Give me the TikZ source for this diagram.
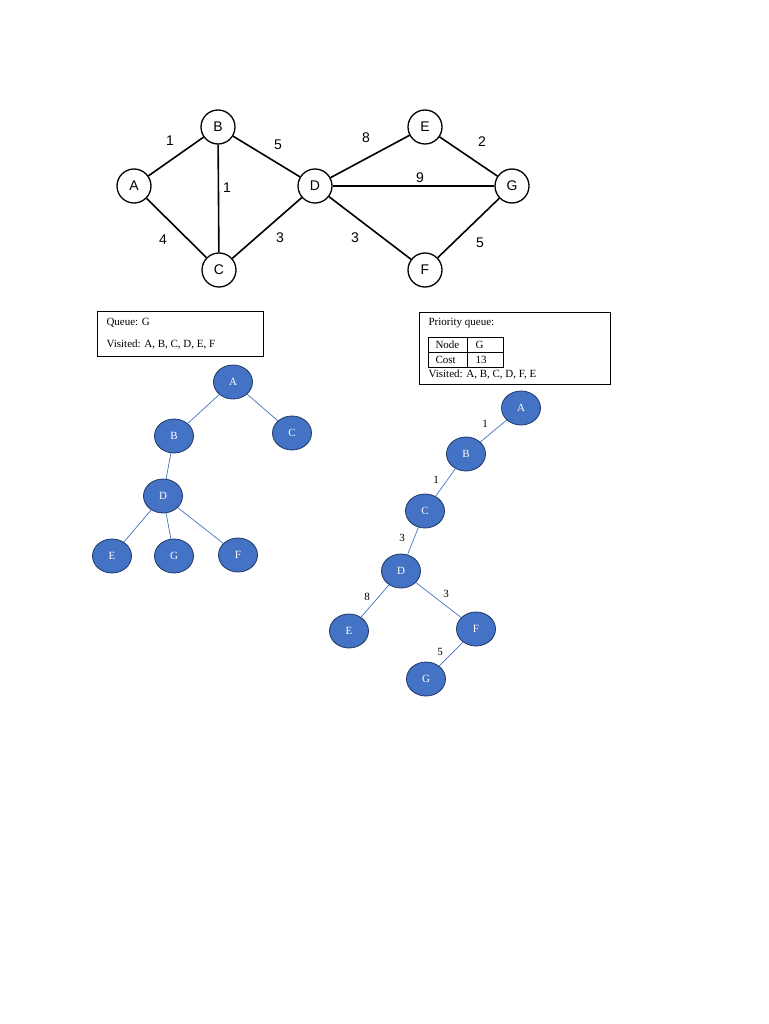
\documentclass[tikz,border=0pt]{standalone}
\usepackage{fontspec}
\setmainfont{Liberation Serif}
\newfontfamily\arialf{Liberation Sans}
\usetikzlibrary{shapes.geometric}
\definecolor{nb}{HTML}{4472C4}
\definecolor{nd}{HTML}{1F3864}
\begin{document}
\begin{tikzpicture}[x=1pt,y=-1pt,
  gn/.style={circle,draw,line width=1.3pt,minimum size=34pt,inner sep=0pt,font=\arialf\fontsize{14}{14}\selectfont},
  ge/.style={line width=1.6pt},
  gw/.style={font=\arialf\fontsize{14}{14}\selectfont},
  tn/.style={ellipse,draw=nd,fill=nb,line width=0.8pt,minimum width=39pt,minimum height=34pt,inner sep=0pt,text=white,font=\fontsize{11}{11}\selectfont},
  te/.style={draw=nb,line width=0.7pt},
  tw/.style={font=\fontsize{11}{11}\selectfont},
  bt/.style={font=\fontsize{11}{11}\selectfont,anchor=west}]
\useasboundingbox (0,0) rectangle (768,1024);
% top graph
\node[gn] (A) at (134,186) {A};
\node[gn] (B) at (218,127) {B};
\node[gn] (C) at (219,270) {C};
\node[gn] (D) at (315,186) {D};
\node[gn] (E) at (425,127) {E};
\node[gn] (G) at (512,186) {G};
\node[gn] (F) at (425,270) {F};
\draw[ge] (A)--(B); \draw[ge] (A)--(C); \draw[ge] (B)--(C); \draw[ge] (B)--(D);
\draw[ge] (C)--(D); \draw[ge] (D)--(E); \draw[ge] (D)--(G); \draw[ge] (D)--(F);
\draw[ge] (E)--(G); \draw[ge] (F)--(G);
\node[gw] (w1) at (170,141) {1};
\node[gw] (w2) at (227,188) {1};
\node[gw] (w3) at (278,145) {5};
\node[gw] (w4) at (163,240) {4};
\node[gw] (w5) at (280,238) {3};
\node[gw] (w6) at (366,138) {8};
\node[gw] (w7) at (420,178) {9};
\node[gw] (w8) at (482,142) {2};
\node[gw] (w9) at (355,238) {3};
\node[gw] (w10) at (480,243) {5};
% boxes
\draw[line width=0.8pt] (97,311) rectangle (263,356);
\node[bt] (q1) at (103,323) {Queue: G};
\node[bt] (q2) at (103,345) {Visited: A, B, C, D, E, F};
\draw[line width=0.8pt] (419,312) rectangle (610,384);
\node[bt] (p1) at (425,323) {Priority queue:};
\draw[line width=0.6pt] (428,337) rectangle (503,367) (467,337)--(467,367) (428,352)--(503,352);
\node[bt] (t1) at (432,345) {Node};
\node[bt] (t2) at (472,345) {G};
\node[bt] (t3) at (432,360) {Cost};
\node[bt] (t4) at (472,360) {13};
\node[bt] (p2) at (425,375) {Visited: A, B, C, D, F, E};
% left tree
\node[tn] (LA) at (233,382) {A};
\node[tn] (LB) at (174,436) {B};
\node[tn] (LC) at (292,433) {C};
\node[tn] (LD) at (163,496) {D};
\node[tn] (LE) at (112,556) {E};
\node[tn] (LG) at (174,556) {G};
\node[tn] (LF) at (238,555) {F};
\draw[te] (LA)--(LB); \draw[te] (LA)--(LC); \draw[te] (LB)--(LD);
\draw[te] (LD)--(LE); \draw[te] (LD)--(LG); \draw[te] (LD)--(LF);
% right tree
\node[tn] (RA) at (521,408) {A};
\node[tn] (RB) at (466,454) {B};
\node[tn] (RC) at (425,511) {C};
\node[tn] (RD) at (401,571) {D};
\node[tn] (RE) at (349,631) {E};
\node[tn] (RF) at (476,629) {F};
\node[tn] (RG) at (426,679) {G};
\draw[te] (RA)--(RB); \draw[te] (RB)--(RC); \draw[te] (RC)--(RD);
\draw[te] (RD)--(RE); \draw[te] (RD)--(RF); \draw[te] (RF)--(RG);
\node[tw] (r1) at (485,424) {1};
\node[tw] (r2) at (436,480) {1};
\node[tw] (r3) at (402,538) {3};
\node[tw] (r4) at (367,597) {8};
\node[tw] (r5) at (446,594) {3};
\node[tw] (r6) at (440,652) {5};
\end{tikzpicture}
\end{document}
